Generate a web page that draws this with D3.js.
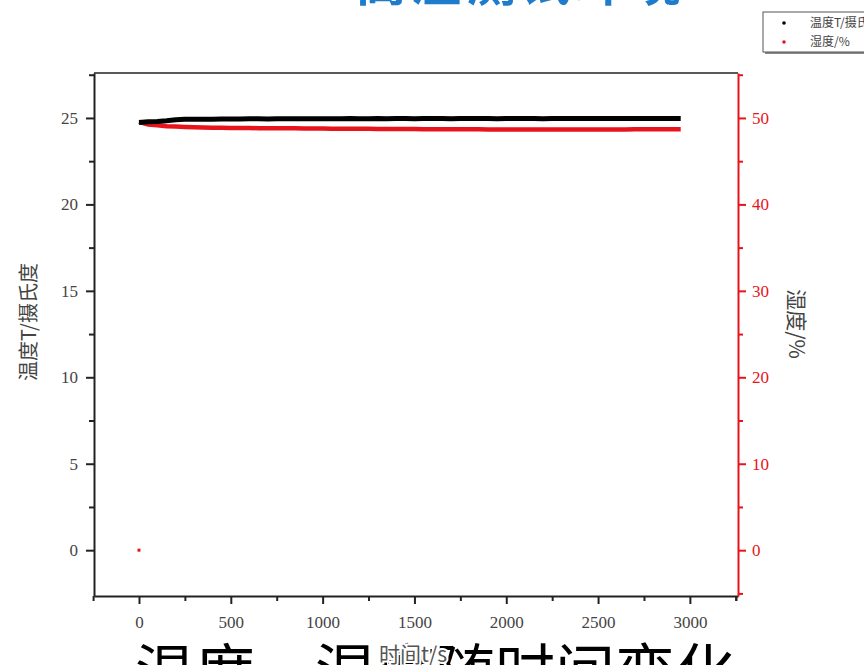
<!DOCTYPE html>
<html>
<head>
<meta charset="utf-8">
<script src="https://cdn.jsdelivr.net/npm/d3@7"></script>
<style>
  html, body { margin: 0; padding: 0; background: #fff; overflow: hidden; }
  svg { display: block; }
</style>
</head>
<body>
<svg id="chart" width="864" height="665"></svg>
<script>
// Sample times (s), one reading kept every 50 s
const timeS = [0,50,100,150,200,250,300,350,400,450,500,550,600,650,700,750,800,850,900,950,
  1000,1050,1100,1150,1200,1250,1300,1350,1400,1450,1500,1550,1600,1650,1700,1750,1800,1850,1900,1950,
  2000,2050,2100,2150,2200,2250,2300,2350,2400,2450,2500,2550,2600,2650,2700,2750,2800,2850,2900,2950];

// Temperature (°C)
const temperature = [24.74,24.78,24.80,24.84,24.90,24.92,24.92,24.93,24.93,24.94,24.94,24.94,24.95,24.95,24.94,24.95,24.95,24.96,24.95,24.96,
  24.96,24.96,24.96,24.97,24.96,24.96,24.97,24.96,24.97,24.97,24.96,24.97,24.97,24.97,24.96,24.97,24.97,24.97,24.97,24.96,
  24.97,24.97,24.97,24.97,24.96,24.97,24.97,24.97,24.97,24.97,24.97,24.97,24.97,24.97,24.97,24.97,24.97,24.97,24.97,24.97];

// Relative humidity (%)
const humidity = [49.55,49.25,49.15,49.05,49.00,48.95,48.92,48.90,48.88,48.86,48.85,48.84,48.83,48.82,48.82,48.82,48.80,48.80,48.78,48.78,
  48.77,48.76,48.76,48.75,48.74,48.74,48.73,48.72,48.72,48.72,48.72,48.70,48.70,48.70,48.70,48.68,48.68,48.68,48.67,48.66,
  48.66,48.65,48.65,48.65,48.66,48.66,48.66,48.66,48.66,48.67,48.67,48.67,48.67,48.67,48.68,48.68,48.68,48.68,48.68,48.70];

// Isolated humidity reading at start-up
const humidityOutlier = [{ t: 0, h: 0 }];

const xTicks = [0, 500, 1000, 1500, 2000, 2500, 3000];
const tempTicks = [0, 5, 10, 15, 20, 25];
const humTicks = [0, 10, 20, 30, 40, 50];

const seriesNames = ["温度T/摄氏度", "湿度/%"];
const titleText = "高温测试环境";
const captionText = "温度、湿度随时间变化";

const svg = d3.select("#chart");
const plotLeft = 94, plotRight = 738, plotTop = 73, plotBottom = 596;
const RED = "#e8141b";
const serif = "'Liberation Serif', 'DejaVu Serif', serif";
const cjk = "'Noto Sans CJK SC', sans-serif";
const fmt = d3.format("d");

const x = d3.scaleLinear().domain([-245, 3262]).range([plotLeft, plotRight]);
const yT = d3.scaleLinear().domain([-2.65, 27.6]).range([plotBottom, plotTop]);
const yH = d3.scaleLinear().domain([-5.3, 55.2]).range([plotBottom, plotTop]);

// Heading text above the plot
svg.append("text")
  .attr("x", 356).attr("y", 1)
  .attr("font-family", cjk).attr("font-size", 50).attr("font-weight", 700)
  .attr("letter-spacing", 5)
  .attr("fill", "#1f7ccc")
  .text(titleText);

// Caption below the plot (drawn first so the axis text sits over it)
svg.append("text")
  .attr("x", 135).attr("y", 694)
  .attr("font-family", cjk).attr("font-size", 60).attr("font-weight", 400)
  .attr("fill", "#000")
  .text(captionText);

// Data
const tempLine = d3.line().x((d, i) => x(timeS[i])).y(d => yT(d));
const humLine = d3.line().x((d, i) => x(timeS[i])).y(d => yH(d));

svg.append("path").datum(humidity)
  .attr("d", humLine).attr("fill", "none")
  .attr("stroke", RED).attr("stroke-width", 4.5);
svg.append("path").datum(temperature)
  .attr("d", tempLine).attr("fill", "none")
  .attr("stroke", "#000").attr("stroke-width", 5);

svg.selectAll(".outlier").data(humidityOutlier).enter().append("rect")
  .attr("x", d => x(d.t) - 1.5).attr("y", d => yH(d.h) - 1.5)
  .attr("width", 3).attr("height", 3).attr("fill", RED);

// Frame
svg.append("line").attr("x1", plotLeft).attr("x2", plotRight).attr("y1", plotTop).attr("y2", plotTop)
  .attr("stroke", "#222").attr("stroke-width", 1.5);

// Bottom axis
const xAxis = svg.append("g").attr("transform", `translate(0,${plotBottom})`)
  .call(d3.axisBottom(x).tickValues(xTicks).tickFormat(fmt).tickSize(8).tickSizeOuter(0).tickPadding(12));
svg.append("g").attr("transform", `translate(0,${plotBottom})`)
  .call(d3.axisBottom(x).tickValues(d3.range(-250, 3251, 500).concat([3250])).tickSize(5).tickSizeOuter(0).tickFormat(""))
  .call(g => g.select(".domain").remove())
  .selectAll("line").attr("stroke", "#222").attr("stroke-width", 2);
xAxis.select(".domain").attr("stroke", "#222").attr("stroke-width", 2);
xAxis.selectAll(".tick line").attr("stroke", "#222").attr("stroke-width", 2);
xAxis.selectAll("text").attr("font-family", serif).attr("font-size", 17).attr("fill", "#444");

// Left axis
const yAxisL = svg.append("g").attr("transform", `translate(${plotLeft},0)`)
  .call(d3.axisLeft(yT).tickValues(tempTicks).tickFormat(fmt).tickSize(8).tickSizeOuter(0).tickPadding(8));
svg.append("g").attr("transform", `translate(${plotLeft},0)`)
  .call(d3.axisLeft(yT).tickValues([2.5, 7.5, 12.5, 17.5, 22.5, 27.5]).tickSize(5).tickFormat(""))
  .call(g => g.select(".domain").remove())
  .selectAll("line").attr("stroke", "#222").attr("stroke-width", 2);
yAxisL.select(".domain").attr("stroke", "#222").attr("stroke-width", 2);
yAxisL.selectAll(".tick line").attr("stroke", "#222").attr("stroke-width", 2);
yAxisL.selectAll("text").attr("font-family", serif).attr("font-size", 17).attr("fill", "#444");

// Right axis (humidity)
const yAxisR = svg.append("g").attr("transform", `translate(${plotRight},0)`)
  .call(d3.axisRight(yH).tickValues(humTicks).tickFormat(fmt).tickSize(8).tickSizeOuter(0).tickPadding(6));
svg.append("g").attr("transform", `translate(${plotRight},0)`)
  .call(d3.axisRight(yH).tickValues([-5, 5, 15, 25, 35, 45, 55]).tickSize(5).tickFormat(""))
  .call(g => g.select(".domain").remove())
  .selectAll("line").attr("stroke", RED).attr("stroke-width", 2);
yAxisR.select(".domain").attr("stroke", RED).attr("stroke-width", 2);
yAxisR.selectAll(".tick line").attr("stroke", RED).attr("stroke-width", 2);
yAxisR.selectAll("text").attr("font-family", serif).attr("font-size", 17).attr("fill", RED);

// Axis titles
svg.append("text")
  .attr("transform", "translate(36,322) rotate(-90)")
  .attr("text-anchor", "middle")
  .attr("font-family", cjk).attr("font-size", 20).attr("fill", "#444")
  .text(seriesNames[0]);
svg.append("text")
  .attr("transform", "translate(789,324) rotate(90)")
  .attr("text-anchor", "middle")
  .attr("font-family", cjk).attr("font-size", 21).attr("fill", "#444")
  .text(seriesNames[1]);
svg.append("text")
  .attr("x", 413).attr("y", 662)
  .attr("text-anchor", "middle")
  .attr("font-family", cjk).attr("font-size", 21).attr("fill", "#555")
  .attr("stroke", "#fff").attr("stroke-width", 4).attr("paint-order", "stroke")
  .text("时间t/s");

// Legend
const lg = svg.append("g").attr("transform", "translate(763,12)");
lg.append("rect").attr("x", 2).attr("y", 2).attr("width", 110).attr("height", 40).attr("fill", "#888");
lg.append("rect").attr("width", 110).attr("height", 40).attr("fill", "#fff").attr("stroke", "#555").attr("stroke-width", 1);
const legendColors = ["#000", RED];
seriesNames.forEach((name, i) => {
  lg.append("circle").attr("cx", 21).attr("cy", 11 + i * 19).attr("r", 1.8).attr("fill", legendColors[i]);
  lg.append("text").attr("x", 47).attr("y", 15 + i * 19)
    .attr("font-family", cjk).attr("font-size", 12).attr("fill", "#444")
    .text(name);
});
</script>
</body>
</html>
